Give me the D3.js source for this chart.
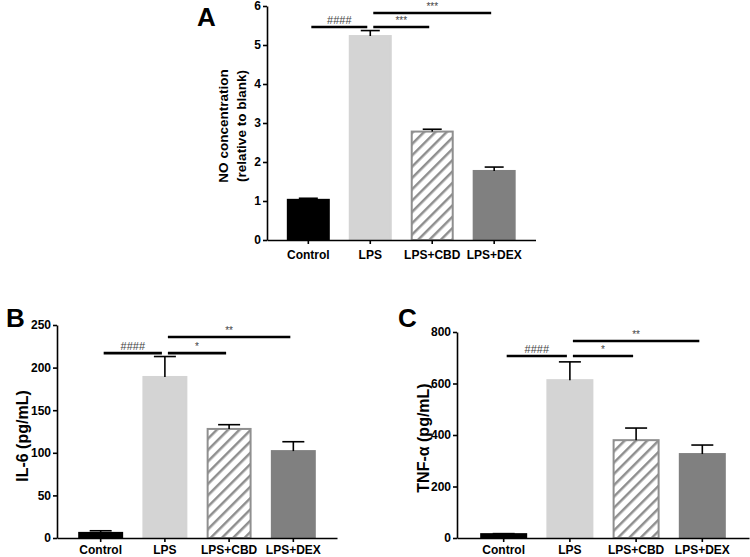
<!DOCTYPE html>
<html>
<head>
<meta charset="utf-8">
<script src="https://cdn.jsdelivr.net/npm/d3@7"></script>
<style>
  html, body { margin: 0; padding: 0; background: #fff; }
  svg { display: block; font-family: "Liberation Sans", Arial, sans-serif; }
</style>
</head>
<body>
<svg id="chart" width="750" height="557"></svg>
<script>
// ---------- data ----------
const categories = ["Control", "LPS", "LPS+CBD", "LPS+DEX"];

const noMeans = [1.03, 5.23, 2.78, 1.77];
const noErrors = [0.04, 0.14, 0.06, 0.10];
const noTicks = [0, 1, 2, 3, 4, 5, 6];

const il6Means = [6, 189, 128, 102];
const il6Errors = [2.5, 24, 5, 11];
const il6Ticks = [0, 50, 100, 150, 200, 250];

const tnfMeans = [15, 613, 380, 326];
const tnfErrors = [2, 71, 47, 35];
const tnfTicks = [0, 200, 400, 600, 800];

// significance brackets: [fromCategoryIndex, toCategoryIndex, level, label]
const noBrackets = [[0, 1, 5.46, "####"], [1, 2, 5.46, "***"], [1, 3, 5.82, "***"]];
const il6Brackets = [[0, 1, 217, "####"], [1, 2, 217, "*"], [1, 3, 236, "**"]];
const tnfBrackets = [[0, 1, 707, "####"], [1, 2, 707, "*"], [1, 3, 765, "**"]];

// ---------- drawing ----------
const svg = d3.select("#chart");
svg.append("rect").attr("width", 750).attr("height", 557).attr("fill", "#fff");

const defs = svg.append("defs");
const pat = defs.append("pattern")
  .attr("id", "hatch")
  .attr("patternUnits", "userSpaceOnUse")
  .attr("width", 8).attr("height", 8)
  .attr("patternTransform", "rotate(45)");
pat.append("rect").attr("width", 8).attr("height", 8).attr("fill", "#fff");
pat.append("line").attr("x1", 0).attr("y1", 0).attr("x2", 0).attr("y2", 8)
  .attr("stroke", "#8f8f8f").attr("stroke-width", 5);

const fills = ["#000000", "#d4d4d4", "url(#hatch)", "#808080"];
const strokes = ["#000000", "#d4d4d4", "#8f8f8f", "#808080"];

function drawPanel(cfg) {
  const g = svg.append("g");
  const x = d3.scaleBand().domain(categories)
    .range(cfg.xRange).paddingInner(cfg.pIn).paddingOuter(cfg.pOut);
  const y = d3.scaleLinear().domain(cfg.yDomain).range(cfg.yRange);

  // bars
  g.selectAll("rect.bar").data(cfg.means).join("rect")
    .attr("class", "bar")
    .attr("x", (d, i) => x(categories[i]) + 1)
    .attr("width", x.bandwidth() - 2)
    .attr("y", d => y(d))
    .attr("height", d => y(0) - y(d))
    .attr("fill", (d, i) => fills[i])
    .attr("stroke", (d, i) => strokes[i])
    .attr("stroke-width", 2);

  // error bars (upward only)
  const capW = cfg.capW;
  cfg.means.forEach((m, i) => {
    const cx = x(categories[i]) + x.bandwidth() / 2;
    const top = y(m + cfg.errors[i]);
    g.append("line").attr("x1", cx).attr("x2", cx).attr("y1", y(m)).attr("y2", top)
      .attr("stroke", "#000").attr("stroke-width", 1.6);
    g.append("line").attr("x1", cx - capW / 2).attr("x2", cx + capW / 2).attr("y1", top).attr("y2", top)
      .attr("stroke", "#000").attr("stroke-width", 1.6);
  });

  // y axis
  const yAxis = g.append("g").attr("transform", `translate(${cfg.xRange[0]},0)`)
    .call(d3.axisLeft(y).tickValues(cfg.ticks).tickFormat(d3.format("d"))
      .tickSize(4).tickSizeOuter(0).tickPadding(2));
  yAxis.select(".domain").attr("stroke-width", 1.6);
  yAxis.selectAll(".tick line").attr("stroke-width", 1.6);
  yAxis.selectAll("text").attr("font-size", 12).attr("font-weight", "bold")
    .attr("font-family", "Liberation Sans, Arial, sans-serif").attr("fill", "#000");

  // x axis
  const xAxis = g.append("g").attr("transform", `translate(0,${cfg.yRange[0]})`)
    .call(d3.axisBottom(x).tickSize(4).tickSizeOuter(0).tickPadding(cfg.xPad));
  xAxis.select(".domain").attr("stroke-width", 1.6);
  xAxis.selectAll(".tick line").attr("stroke-width", 1.6);
  xAxis.selectAll("text").attr("font-size", 12).attr("font-weight", "bold")
    .attr("font-family", "Liberation Sans, Arial, sans-serif").attr("fill", "#000");

  // significance brackets
  cfg.brackets.forEach(([a, b, lvl, lab]) => {
    const x1 = x(categories[a]) + x.bandwidth() / 2 + 3;
    const x2 = x(categories[b]) + x.bandwidth() / 2 - 3;
    const yy = y(lvl);
    g.append("line").attr("x1", x1).attr("x2", x2).attr("y1", yy).attr("y2", yy)
      .attr("stroke", "#000").attr("stroke-width", 2.6);
    g.append("text").attr("x", (x1 + x2) / 2).attr("y", yy - 3)
      .attr("text-anchor", "middle").attr("font-size", lab.startsWith("#") ? 11 : 10)
      .attr("fill", "#444").text(lab);
  });

  // y title (one text element per line)
  cfg.title.forEach((line, i) => {
    g.append("text")
      .attr("transform", `translate(${cfg.titleX + i * cfg.titleStep},${cfg.titleY}) rotate(-90)`)
      .attr("text-anchor", "middle").attr("font-weight", "bold")
      .attr("font-size", cfg.titleSize).attr("fill", "#000").text(line);
  });

  // panel letter
  g.append("text").attr("x", cfg.letterX).attr("y", cfg.letterY)
    .attr("font-size", 26).attr("font-weight", "bold").attr("fill", "#000").text(cfg.letter);
}

drawPanel({
  means: noMeans, errors: noErrors, ticks: noTicks, brackets: noBrackets,
  xRange: [267, 535.5], pIn: 0.306, pOut: 0.32, yDomain: [0, 6], yRange: [240, 6],
  capW: 19, xPad: 6.5, title: ["NO concentration", "(relative to blank)"], titleStep: 18,
  titleX: 228, titleY: 126, titleSize: 13.5, letter: "A", letterX: 197, letterY: 26
});

drawPanel({
  means: il6Means, errors: il6Errors, ticks: il6Ticks, brackets: il6Brackets,
  xRange: [57, 337], pIn: 0.3, pOut: 0.33, yDomain: [0, 250], yRange: [538, 325],
  capW: 22, xPad: 3.5, title: ["IL-6 (pg/mL)"], titleStep: 0,
  titleX: 28, titleY: 436, titleSize: 16, letter: "B", letterX: 6, letterY: 327
});

drawPanel({
  means: tnfMeans, errors: tnfErrors, ticks: tnfTicks, brackets: tnfBrackets,
  xRange: [457, 749], pIn: 0.29, pOut: 0.35, yDomain: [0, 800], yRange: [538, 332],
  capW: 22, xPad: 3.5, title: ["TNF-α (pg/mL)"], titleStep: 0,
  titleX: 429, titleY: 438, titleSize: 16, letter: "C", letterX: 398, letterY: 327
});
</script>
</body>
</html>
